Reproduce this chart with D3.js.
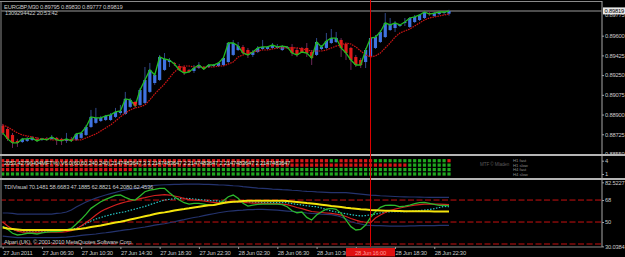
<!DOCTYPE html>
<html><head><meta charset="utf-8">
<script src="https://cdn.jsdelivr.net/npm/d3@7"></script>
<style>
html,body{margin:0;padding:0;background:#000;}
svg{display:block;}
text{font-family:"Liberation Sans",Arial,sans-serif;font-size:5.8px;letter-spacing:-0.2px;}
</style></head><body>
<svg id="c" width="625" height="257"></svg>
<script>
// ---------------- DATA ----------------
const symbolTitle = "EURGBP,M30  0.89795 0.89830 0.89777 0.89819";
const serverLine = "1309294422 20:53:42";
const openP = [0.88799,0.88772,0.88719,0.88666,0.88657,0.88666,0.88675,0.88684,0.88675,0.88684,
0.88684,0.88693,0.88684,0.88666,0.88684,0.88675,0.88693,0.88719,0.88790,0.88826,
0.88843,0.88852,0.88852,0.88879,0.88914,0.88905,0.88968,0.89003,0.88985,0.89003,
0.89101,0.89180,0.89207,0.89296,0.89366,0.89358,0.89331,0.89322,0.89296,0.89287,
0.89313,0.89322,0.89322,0.89331,0.89331,0.89340,0.89366,0.89429,0.89473,0.89500,
0.89473,0.89429,0.89455,0.89482,0.89482,0.89491,0.89491,0.89473,0.89491,0.89500,
0.89473,0.89491,0.89491,0.89455,0.89429,0.89482,0.89491,0.89535,0.89544,0.89562,
0.89526,0.89491,0.89411,0.89384,0.89366,0.89411,0.89491,0.89544,0.89588,0.89650,
0.89668,0.89686,0.89713,0.89677,0.89721,0.89739,0.89757,0.89801,0.89775,0.89792,
0.89801,0.89795];
const highP = [0.88817,0.88790,0.88737,0.88684,0.88693,0.88701,0.88710,0.88701,0.88693,0.88701,
0.88719,0.88701,0.88693,0.88737,0.88701,0.88737,0.88746,0.88808,0.88941,0.88959,
0.88888,0.88897,0.88914,0.88959,0.88985,0.89101,0.89047,0.89021,0.89136,0.89322,
0.89358,0.89269,0.89429,0.89446,0.89402,0.89366,0.89349,0.89331,0.89304,0.89340,
0.89366,0.89331,0.89349,0.89349,0.89366,0.89411,0.89544,0.89562,0.89544,0.89517,
0.89491,0.89473,0.89508,0.89562,0.89508,0.89535,0.89526,0.89517,0.89508,0.89526,
0.89491,0.89500,0.89535,0.89473,0.89579,0.89517,0.89624,0.89659,0.89633,0.89579,
0.89535,0.89500,0.89429,0.89402,0.89491,0.89597,0.89606,0.89650,0.89801,0.89757,
0.89730,0.89704,0.89757,0.89766,0.89784,0.89792,0.89819,0.89819,0.89810,0.89819,
0.89819,0.89830];
const lowP = [0.88719,0.88666,0.88604,0.88613,0.88648,0.88657,0.88666,0.88657,0.88666,0.88666,
0.88675,0.88630,0.88630,0.88648,0.88657,0.88666,0.88684,0.88710,0.88781,0.88817,
0.88834,0.88843,0.88843,0.88870,0.88897,0.88897,0.88959,0.88959,0.88976,0.88994,
0.89092,0.89163,0.89198,0.89287,0.89322,0.89331,0.89287,0.89251,0.89269,0.89269,
0.89304,0.89296,0.89313,0.89322,0.89322,0.89331,0.89358,0.89420,0.89464,0.89437,
0.89402,0.89411,0.89446,0.89473,0.89473,0.89482,0.89482,0.89464,0.89482,0.89420,
0.89411,0.89446,0.89411,0.89340,0.89420,0.89473,0.89482,0.89526,0.89535,0.89411,
0.89384,0.89296,0.89322,0.89313,0.89313,0.89402,0.89482,0.89535,0.89579,0.89642,
0.89633,0.89677,0.89686,0.89668,0.89713,0.89730,0.89748,0.89775,0.89766,0.89784,
0.89784,0.89777];
const closeP = [0.88737,0.88684,0.88648,0.88648,0.88684,0.88684,0.88693,0.88666,0.88684,0.88675,
0.88701,0.88675,0.88666,0.88684,0.88666,0.88728,0.88737,0.88790,0.88879,0.88870,
0.88870,0.88888,0.88897,0.88923,0.88932,0.89039,0.89030,0.88976,0.89118,0.89207,
0.89296,0.89251,0.89411,0.89393,0.89384,0.89349,0.89296,0.89269,0.89278,0.89313,
0.89340,0.89304,0.89340,0.89340,0.89358,0.89402,0.89535,0.89535,0.89508,0.89446,
0.89429,0.89455,0.89491,0.89500,0.89500,0.89517,0.89500,0.89508,0.89500,0.89446,
0.89429,0.89455,0.89446,0.89402,0.89544,0.89500,0.89553,0.89579,0.89579,0.89491,
0.89446,0.89384,0.89340,0.89340,0.89473,0.89579,0.89588,0.89633,0.89713,0.89695,
0.89713,0.89695,0.89721,0.89757,0.89766,0.89784,0.89810,0.89792,0.89801,0.89810,
0.89810,0.89819];
const slowMA = [0.88808,0.88790,0.88764,0.88737,0.88719,0.88710,0.88701,0.88693,0.88684,0.88684,
0.88675,0.88675,0.88675,0.88675,0.88675,0.88675,0.88675,0.88693,0.88710,0.88728,
0.88755,0.88781,0.88808,0.88843,0.88879,0.88914,0.88941,0.88959,0.88968,0.88985,
0.89030,0.89083,0.89127,0.89171,0.89225,0.89278,0.89313,0.89331,0.89331,0.89322,
0.89322,0.89322,0.89322,0.89322,0.89331,0.89331,0.89349,0.89366,0.89411,0.89429,
0.89446,0.89455,0.89464,0.89473,0.89473,0.89482,0.89491,0.89491,0.89491,0.89491,
0.89491,0.89482,0.89473,0.89464,0.89464,0.89464,0.89473,0.89491,0.89508,0.89517,
0.89535,0.89526,0.89500,0.89464,0.89429,0.89411,0.89420,0.89446,0.89491,0.89535,
0.89588,0.89624,0.89642,0.89659,0.89686,0.89713,0.89739,0.89757,0.89766,0.89775,
0.89784,0.89792];
const arrowBars = [27];
const arrowPrices = [0.88985];
const priceTicks = [0.89600,0.89425,0.89250,0.89075,0.88900,0.88725,0.88550];
const bidPrice = 0.89819;
const extraPrice = 0.89775;

const timeTickBars = [0,8,16,24,32,40,48,56,64,72,80,88];
const timeLabels = ["27 Jun 2011","27 Jun 06:30","27 Jun 10:30","27 Jun 14:30","27 Jun 18:30","27 Jun 22:30",
"28 Jun 02:30","28 Jun 06:30","28 Jun 10:30","28 Jun 14:30","28 Jun 18:30","28 Jun 22:30"];
const cursorBar = 75;
const cursorLabel = "28 Jun 16:00";

// MTF signal window
const sigTitle = "2053.4279(H04MFT%) V6.0(60,60,240,240),2147483647,3 3 2147483647 2 2147483647 2 2147483647 2 2147483647";
const sigRowNames = ["H1 fast","H1 slow","H4 fast","H4 slow"];
const sigRowLevels = [4,3,2,1];
const sigRuns = [
  [["r",67],["g",2],["r",7],["g",15],["r",1]],
  [["r",83],["g",9]],
  [["r",27],["g",65]],
  [["g",92]]
];
const sigTicks = [4,1];
const sigCredit = "MTF © Mladen";

// TDI window
const tdiTitle = "TDIVisual 70.1481 58.6683 47.1885 62.8821 64.2080 62.4536";
const copyright = "Alpari (UK), © 2001-2010 MetaQuotes Software Corp.";
const rsiLine = [46.2,44.0,40.8,39.4,39.9,40.8,40.8,40.2,41.2,41.8,
42.1,42.1,42.6,43.5,44.8,48.4,52.2,56.5,61.2,63.9,
66.6,68.6,70.2,71.8,72.1,70.2,68.6,68.0,71.3,74.8,
76.2,76.8,77.6,77.6,74.0,70.7,68.0,65.8,64.7,65.3,
65.3,64.7,63.9,63.9,64.7,67.4,70.7,72.1,69.4,65.3,
63.1,63.9,64.5,64.7,64.7,64.7,64.7,64.2,62.5,59.2,
57.6,58.2,53.8,51.6,55.7,58.4,60.6,61.2,60.4,57.1,
51.6,46.2,43.5,44.0,47.5,53.8,58.4,62.0,63.7,63.9,
63.7,62.5,63.1,63.9,65.0,65.8,66.1,65.3,64.5,63.7,
63.7,63.5];
const signalLine = [50.0,46.7,44.3,42.6,41.8,41.8,41.8,41.8,41.8,41.8,
41.8,41.8,41.8,42.2,43.0,44.3,46.7,49.6,52.5,55.7,
58.6,60.6,62.3,63.9,65.3,66.4,67.2,68.0,69.2,70.0,
70.9,71.7,72.1,72.5,72.1,71.3,70.5,69.2,68.4,68.0,
67.6,67.2,66.6,66.1,65.8,66.1,66.6,66.6,66.4,66.1,
65.8,65.5,65.5,65.3,65.3,65.1,65.0,64.7,64.3,63.1,
61.9,61.0,59.8,58.6,58.2,57.8,57.4,57.0,56.5,55.7,
54.5,52.9,51.6,50.4,49.8,49.4,53.3,55.7,57.8,59.4,
60.6,61.5,62.3,63.1,63.9,64.3,64.7,64.7,64.7,64.7,
64.5,64.2];
const baseLine = [45.5,44.7,44.3,43.9,43.5,43.5,43.5,43.5,43.5,43.5,
43.5,43.5,43.5,43.5,43.7,44.0,44.5,45.1,45.9,46.5,
47.1,48.0,48.8,49.6,50.2,51.1,52.0,52.9,53.8,54.7,
55.5,56.5,57.4,57.9,58.6,59.4,60.1,60.6,61.2,61.9,
62.5,63.1,63.7,63.9,64.7,65.5,66.1,66.6,66.9,67.2,
67.4,67.4,67.4,67.4,67.4,67.4,67.4,67.4,67.2,66.8,
66.4,66.0,65.5,65.1,64.7,64.2,63.7,63.1,62.7,62.3,
61.7,61.2,60.9,60.5,60.2,59.8,59.6,59.4,59.2,59.2,
59.0,59.0,58.9,58.9,58.9,58.8,58.8,58.8,58.7,58.7,
58.7,58.7];
const cyanLine = [46.3,45.1,43.9,43.0,42.6,42.6,42.6,42.6,42.6,42.6,
42.6,42.6,42.9,43.2,43.9,44.7,46.7,48.8,50.8,52.5,
53.7,54.9,56.0,57.0,57.8,58.4,59.6,60.6,61.7,62.8,
64.2,65.5,66.8,68.0,68.6,69.0,69.2,69.4,69.2,68.8,
68.4,68.0,67.6,67.4,67.2,66.9,66.8,66.6,66.5,66.4,
66.3,66.2,66.1,66.0,66.0,65.9,65.8,65.8,65.8,65.1,
64.5,63.9,63.3,62.8,62.5,61.5,60.2,59.0,58.2,57.4,
56.7,56.1,55.5,54.9,55.3,55.9,56.5,57.4,57.9,58.4,
58.4,58.4,58.4,58.8,59.0,59.4,59.8,60.2,61.0,61.9,
62.8,62.5];
const upperBand = [57.4,57.4,57.0,56.5,56.5,56.5,56.5,56.5,56.5,56.5,
56.5,57.0,57.4,58.2,59.8,62.3,64.3,66.4,68.0,69.6,
70.9,72.1,73.3,74.3,75.4,76.2,77.0,77.6,78.2,78.9,
79.5,80.0,80.3,80.5,80.7,80.9,80.9,81.1,81.1,81.1,
81.1,80.9,80.8,80.6,80.4,80.3,80.0,79.7,79.5,79.0,
78.6,78.2,77.8,77.6,77.3,77.0,76.8,76.5,76.3,76.0,
75.8,75.4,75.1,75.0,74.7,74.5,74.3,74.1,74.0,74.0,
74.0,73.7,73.3,72.9,72.5,72.1,71.8,71.5,71.3,71.1,
70.9,70.7,70.6,70.5,70.5,70.4,70.3,70.2,70.2,70.1,
70.1,70.1];
const lowerBand = [38.5,38.1,37.7,37.3,37.3,37.3,37.3,37.3,37.3,37.3,
37.3,37.3,37.5,37.7,38.1,38.5,39.0,39.4,39.8,40.2,
40.8,41.2,41.8,42.4,42.9,43.5,44.0,44.7,45.3,45.9,
46.7,47.5,48.0,48.6,49.4,50.2,51.2,52.0,52.9,53.7,
54.3,55.2,56.0,56.8,57.6,58.2,58.8,59.2,59.6,59.8,
60.1,60.2,60.4,60.4,60.2,60.0,59.7,59.4,59.0,58.6,
58.2,57.8,57.4,57.1,56.9,56.5,56.3,56.0,55.3,54.1,
52.5,50.2,49.2,48.4,47.5,47.3,47.1,47.0,46.9,46.7,
46.7,46.7,46.7,46.8,46.9,47.0,47.1,47.1,47.1,47.2,
47.2,47.2];
const tdiLevels = [68,50,32];
const tdiTicks = [82.5227,68,50,30.0384];

// ---------------- DRAW ----------------
const W = 625, H = 257, N = closeP.length;
const svg = d3.select("#c");
svg.append("rect").attr("width",W).attr("height",H).attr("fill","#000");
const defs = svg.append("defs");
function clip(id,x0,y0,w,h){defs.append("clipPath").attr("id",id).append("rect").attr("x",x0).attr("y",y0).attr("width",w).attr("height",h);}
clip("cMain",1.5,2,600,152);
clip("cSig",1.5,157,600,21);
clip("cTdi",1.5,181,600,65.5);

const x = d3.scaleLinear().domain([0,N-1]).range([2.7,449]);
const yP = d3.scaleLinear().domain([0.88550,0.89819]).range([154,11]);
const yS = d3.scaleLinear().domain([1,4]).range([174,160.7]);
const yT = d3.scaleLinear().domain([30.0384,82.5227]).range([246.4,182.3]);
const AX = 602;
const txtCol = "#c8c8c8";

// ----- main window -----
const g1 = svg.append("g").attr("clip-path","url(#cMain)");
g1.append("line").attr("x1",0).attr("x2",AX).attr("y1",yP(bidPrice)).attr("y2",yP(bidPrice))
  .attr("stroke","#9a9a9a").attr("stroke-width",1);
const bars = d3.range(N).map(i=>({i,o:openP[i],h:highP[i],l:lowP[i],c:closeP[i]}));
g1.selectAll("line.wick").data(bars).join("line").attr("class","wick")
  .attr("x1",d=>x(d.i)).attr("x2",d=>x(d.i)).attr("y1",d=>yP(d.h)).attr("y2",d=>yP(d.l))
  .attr("stroke",d=>d.c>=d.o?"#304888":"#6c2858").attr("stroke-width",1);
g1.selectAll("rect.body").data(bars).join("rect").attr("class","body")
  .attr("x",d=>x(d.i)-1.6).attr("width",3.2)
  .attr("y",d=>yP(Math.max(d.o,d.c)))
  .attr("height",d=>Math.max(1,Math.abs(yP(d.o)-yP(d.c))))
  .attr("fill",d=>d.c>=d.o?"#3f73e0":"#e01a1a");
const lineP = d3.line().x((d,i)=>x(i)).y(d=>yP(d));
g1.append("path").attr("d",lineP(slowMA)).attr("fill","none").attr("stroke","#cc1414")
  .attr("stroke-width",1.2).attr("stroke-dasharray","1.6,0.9");
g1.append("path").attr("d",lineP(closeP)).attr("fill","none").attr("stroke","#22bb22").attr("stroke-width",1.3);
g1.selectAll("path.arrow").data(arrowBars).join("path").attr("class","arrow")
  .attr("d",(b,k)=>{const cx=x(b), cy=yP(arrowPrices[k]); return `M${cx-2.2},${cy-3}L${cx+2.2},${cy-3}L${cx},${cy+1.5}Z`;})
  .attr("fill","#ff2020");

svg.append("text").attr("x",4).attr("y",8.7).attr("fill",txtCol).text(symbolTitle);
svg.append("text").attr("x",5).attr("y",15).attr("fill",txtCol).text(serverLine);

// price axis
const pAxis = svg.append("g").attr("transform",`translate(${AX},0)`)
  .call(d3.axisRight(yP).tickValues(priceTicks).tickSize(2).tickPadding(1).tickFormat(d3.format(".5f")));
pAxis.select(".domain").remove();
pAxis.selectAll("line").attr("stroke","#a0a0a0");
pAxis.selectAll("text").attr("fill",txtCol).attr("font-size",null).attr("font-family",null);
svg.append("text").attr("x",605).attr("y",yP(extraPrice)+1.5).attr("fill",txtCol).text(d3.format(".5f")(extraPrice));
svg.append("rect").attr("x",603).attr("y",yP(bidPrice)-3.6).attr("width",22).attr("height",7).attr("fill","#e8e8e8");
svg.append("text").attr("x",604.5).attr("y",yP(bidPrice)+2).attr("fill","#000").text(d3.format(".5f")(bidPrice));

// ----- MTF signal window -----
const g2 = svg.append("g").attr("clip-path","url(#cSig)");
sigRuns.forEach((runs,r)=>{
  const cells = [];
  let idx = 0;
  runs.forEach(([col,len])=>{ for(let k=0;k<len;k++){cells.push({i:idx,col}); idx++;} });
  g2.selectAll(null).data(cells).join("rect")
    .attr("x",d=>x(d.i)-1.6).attr("y",yS(sigRowLevels[r])-1.6).attr("width",3.2).attr("height",3.2)
    .attr("fill",d=>d.col==="r"?"#d81818":"#1fa81f");
});
g2.append("text").attr("x",4).attr("y",164.6).attr("fill","#d8e8d8").text(sigTitle);
g2.append("text").attr("x",480).attr("y",166).attr("fill","#5a5a5a")
  .style("font-size","4.6px").style("letter-spacing","-0.1px").text(sigCredit);
sigRowNames.forEach((nm,r)=>{
  g2.append("text").attr("x",513).attr("y",yS(sigRowLevels[r])+1.6).attr("fill","#8c8c8c")
    .style("font-size","4.2px").style("letter-spacing","0px").text(nm);
});
const sAxis = svg.append("g").attr("transform",`translate(${AX},0)`)
  .call(d3.axisRight(yS).tickValues(sigTicks).tickSize(2).tickPadding(1).tickFormat(d3.format("d")));
sAxis.select(".domain").remove();
sAxis.selectAll("line").attr("stroke","#a0a0a0");
sAxis.selectAll("text").attr("fill",txtCol).attr("font-size",null).attr("font-family",null);

// ----- TDI window -----
const g3 = svg.append("g").attr("clip-path","url(#cTdi)");
g3.selectAll("line.lvl").data(tdiLevels).join("line").attr("class","lvl")
  .attr("x1",0).attr("x2",AX).attr("y1",d=>yT(d)).attr("y2",d=>yT(d))
  .attr("stroke","#c81010").attr("stroke-width",1).attr("stroke-dasharray","6,2.5");
const lineT = d3.line().x((d,i)=>x(i)).y(d=>yT(d));
[upperBand,lowerBand].forEach(arr=>{
  g3.append("path").attr("d",lineT(arr)).attr("fill","none").attr("stroke","#24336e").attr("stroke-width",1.2);
});
g3.append("path").attr("d",lineT(cyanLine)).attr("fill","none").attr("stroke","#26c6c6")
  .attr("stroke-width",1.2).attr("stroke-dasharray","1.5,1.5");
g3.append("path").attr("d",lineT(signalLine)).attr("fill","none").attr("stroke","#d42020").attr("stroke-width",1.2);
g3.append("path").attr("d",lineT(rsiLine)).attr("fill","none").attr("stroke","#2cb82c").attr("stroke-width",1.3);
g3.append("path").attr("d",lineT(baseLine)).attr("fill","none").attr("stroke","#f4e40c").attr("stroke-width",2);
svg.append("text").attr("x",4).attr("y",188.8).attr("fill",txtCol).text(tdiTitle);
svg.append("text").attr("x",4).attr("y",243.6).attr("fill",txtCol).text(copyright);
const tAxis = svg.append("g").attr("transform",`translate(${AX},0)`)
  .call(d3.axisRight(yT).tickValues(tdiTicks).tickSize(2).tickPadding(1).tickFormat(d=>Number.isInteger(d)?String(d):d3.format(".4f")(d)));
tAxis.select(".domain").remove();
tAxis.selectAll("line").attr("stroke","#a0a0a0");
tAxis.selectAll("text").attr("fill",txtCol).attr("font-size",null).attr("font-family",null);

// ----- frames & separators -----
const frame = svg.append("g").attr("fill","none");
frame.append("line").attr("x1",0).attr("x2",AX).attr("y1",1.5).attr("y2",1.5).attr("stroke","#8a8a8a");
frame.append("line").attr("x1",1).attr("x2",1).attr("y1",1).attr("y2",247).attr("stroke","#8a8a8a");
frame.append("line").attr("x1",AX).attr("x2",AX).attr("y1",1).attr("y2",247).attr("stroke","#a8a8a8");
[155,179].forEach(yy=>frame.append("line").attr("x1",0).attr("x2",W).attr("y1",yy).attr("y2",yy).attr("stroke","#b4b4b4").attr("stroke-width",2));
frame.append("line").attr("x1",0).attr("x2",AX).attr("y1",247).attr("y2",247).attr("stroke","#8a8a8a");

// vertical cursor line
svg.append("line").attr("x1",x(cursorBar)).attr("x2",x(cursorBar)).attr("y1",0).attr("y2",247)
  .attr("stroke","#e00000").attr("stroke-width",1);

// ----- time axis -----
const xAxis = svg.append("g").attr("transform","translate(0,247)")
  .call(d3.axisBottom(x).tickValues(timeTickBars).tickSize(2).tickPadding(1).tickFormat((d,i)=>timeLabels[i]));
xAxis.select(".domain").remove();
xAxis.selectAll("line").attr("stroke","#a0a0a0");
xAxis.selectAll("text").attr("fill",txtCol).attr("text-anchor","start").attr("font-size",null).attr("font-family",null).attr("dy","0.9em");
svg.append("rect").attr("x",x(cursorBar)-24.5).attr("y",248).attr("width",49).attr("height",8.5).attr("fill","#e01010");
svg.append("text").attr("x",x(cursorBar)).attr("y",254.6).attr("text-anchor","middle").attr("fill","#ff9a9a").text(cursorLabel);
</script>
</body></html>
